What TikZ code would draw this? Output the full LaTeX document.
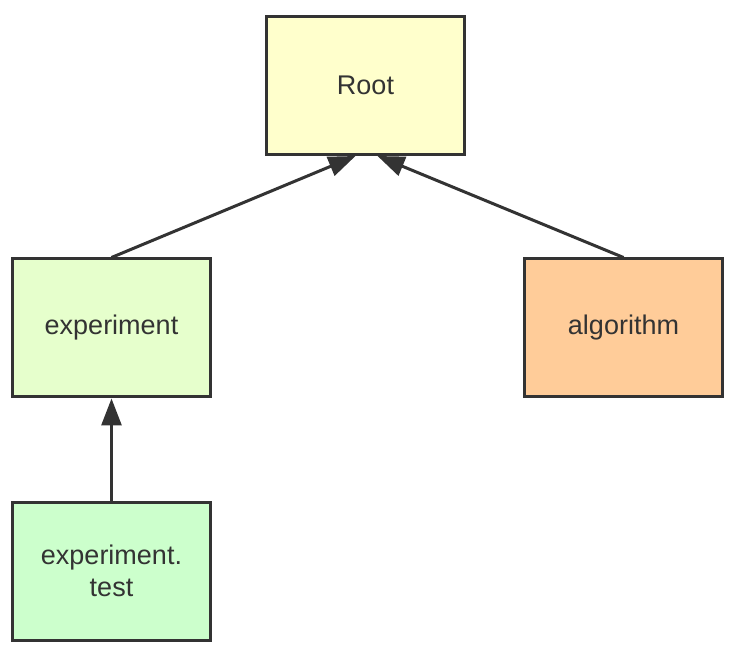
\documentclass[tikz,border=0pt]{standalone}
\usepackage{fontspec}
\setmainfont{Liberation Sans}
\usepackage{tikz}
\usepackage{xcolor}
\usetikzlibrary{arrows.meta,positioning}
\definecolor{ink}{HTML}{333333}
\definecolor{rootcol}{HTML}{FFFFCC}
\definecolor{expcol}{HTML}{E6FFCC}
\definecolor{testcol}{HTML}{CCFFCC}
\definecolor{algcol}{HTML}{FFCC99}

\begin{document}
\begin{tikzpicture}[
  x=1pt, y=1pt,
  box/.style={draw=ink, line width=3pt, minimum width=198pt, minimum height=138pt,
              align=center, text=ink, font=\fontsize{27}{32}\selectfont},
  ar/.style={-{Triangle[length=27pt,width=20pt]}, draw=ink, line width=3pt},
]
\useasboundingbox (0,0) rectangle (738,656);
\node[box, fill=rootcol] (root) at (365.5,570.5) {Root};
\node[box, fill=expcol] (exp) at (111.5,328) {experiment};
\node[box, fill=algcol] (alg) at (623.5,328) {algorithm};
\node[box, fill=testcol] (test) at (111.5,85) {experiment.\\test};
\draw[ar] (exp.north) -- ([xshift=-10pt]root.south);
\draw[ar] (alg.north) -- ([xshift=12pt]root.south);
\draw[ar] (test.north) -- (exp.south);
\end{tikzpicture}
\end{document}
